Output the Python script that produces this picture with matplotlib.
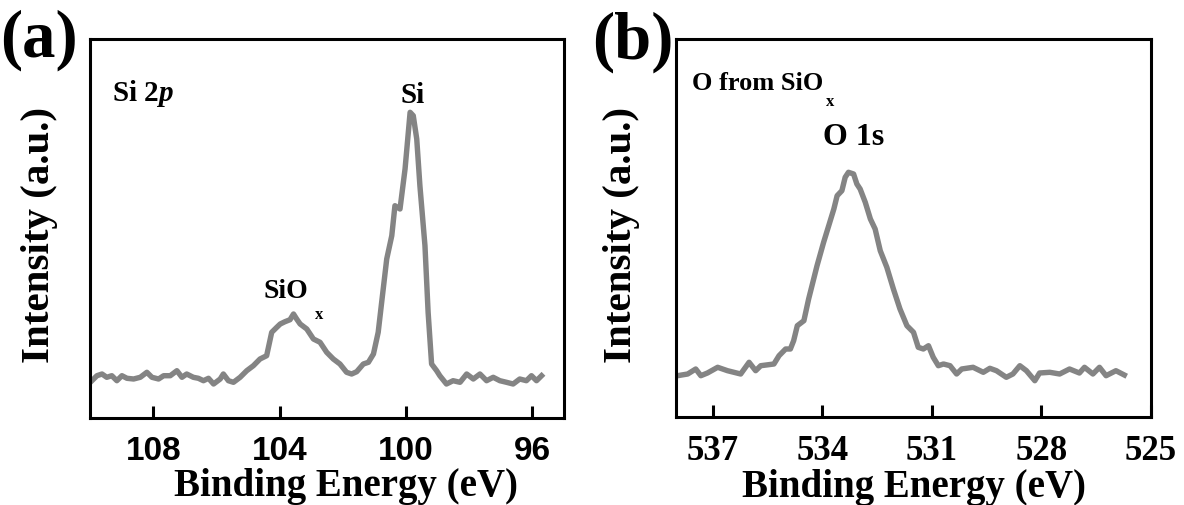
import numpy as np
import matplotlib
matplotlib.use('Agg')
import matplotlib.pyplot as plt

plt.rcParams['font.family'] = 'Liberation Serif'
plt.rcParams['font.weight'] = 'bold'
plt.rcParams['mathtext.fontset'] = 'custom'
plt.rcParams['mathtext.rm'] = 'Liberation Serif:bold'
plt.rcParams['mathtext.it'] = 'Liberation Serif:italic:bold'

# Si 2p spectrum (binding energy in eV, intensity in a.u.)
si_energy = [109.94, 109.78, 109.62, 109.47, 109.31, 109.15, 108.99, 108.83, 108.62, 108.41,
             108.20, 108.04, 107.83, 107.67, 107.46, 107.25, 107.09, 106.94, 106.73, 106.57,
             106.41, 106.25, 106.09, 105.88, 105.78, 105.62, 105.46, 105.25, 105.04, 104.83,
             104.62, 104.41, 104.25, 104.09, 103.98, 103.83, 103.67, 103.56, 103.46, 103.35,
             103.14, 102.93, 102.72, 102.51, 102.30, 102.09, 101.88, 101.72, 101.56, 101.35,
             101.19, 101.03, 100.88, 100.77, 100.61, 100.45, 100.35, 100.19, 100.03, 99.87,
             99.77, 99.66, 99.56, 99.40, 99.30, 99.19, 99.03, 98.93, 98.72, 98.51,
             98.29, 98.08, 97.87, 97.66, 97.45, 97.24, 97.03, 96.82, 96.61, 96.40,
             96.19, 96.03, 95.87, 95.71]
si_int = [37.3, 42.3, 44.0, 40.7, 42.3, 37.3, 42.3, 39.7, 39.0, 40.7,
          45.7, 40.7, 39.0, 42.3, 42.3, 47.3, 40.7, 44.0, 40.7, 39.7,
          37.3, 39.7, 34.0, 39.0, 44.0, 37.3, 35.7, 40.7, 47.3, 52.3,
          59.0, 62.3, 85.7, 90.7, 94.0, 96.3, 98.3, 104.0, 99.0, 94.0,
          89.0, 79.0, 75.7, 65.7, 59.0, 54.0, 45.7, 44.0, 46.3, 54.0,
          55.7, 64.0, 85.7, 115.7, 159.0, 182.3, 212.3, 209.0, 249.0, 305.7,
          302.3, 279.0, 232.3, 172.3, 105.7, 54.0, 47.3, 42.3, 34.0, 37.3,
          35.7, 44.0, 39.0, 44.0, 37.3, 40.7, 37.3, 35.7, 34.0, 39.0,
          37.3, 42.3, 37.3, 42.3]

# O 1s spectrum
o_energy = [537.96, 537.68, 537.46, 537.32, 537.14, 536.86, 536.59, 536.23, 536.00, 535.82,
            535.68, 535.32, 535.18, 535.00, 534.87, 534.78, 534.68, 534.50, 534.37, 534.14,
            533.96, 533.82, 533.68, 533.59, 533.46, 533.37, 533.28, 533.14, 533.05, 532.96,
            532.82, 532.68, 532.55, 532.41, 532.23, 532.05, 531.87, 531.68, 531.50, 531.37,
            531.23, 531.09, 530.96, 530.82, 530.68, 530.50, 530.32, 530.18, 529.87, 529.59,
            529.41, 529.23, 528.96, 528.78, 528.59, 528.41, 528.18, 528.05, 527.77, 527.50,
            527.23, 526.96, 526.82, 526.59, 526.41, 526.23, 525.96, 525.73]
o_int = [41.3, 43.0, 48.0, 41.3, 44.0, 49.7, 46.3, 43.0, 54.7, 46.3,
         51.3, 53.0, 61.3, 68.0, 68.0, 76.3, 91.3, 96.3, 118.0, 151.3,
         174.7, 191.3, 208.0, 221.3, 226.3, 239.7, 244.7, 243.0, 233.0, 228.0,
         214.7, 198.0, 188.0, 166.3, 149.7, 128.0, 108.0, 91.3, 84.7, 69.7,
         68.0, 71.3, 59.7, 51.3, 53.0, 51.3, 43.0, 48.0, 49.7, 44.7,
         48.7, 46.3, 39.7, 43.0, 51.3, 46.3, 36.3, 44.0, 44.7, 43.0,
         48.0, 44.0, 49.7, 43.0, 49.7, 41.3, 46.3, 42.0]

si_ticks = [108, 104, 100, 96]
o_ticks = [537, 534, 531, 528, 525]

line_color = '#848484'

fig = plt.figure(figsize=(11.84, 5.06), dpi=100)
ax1 = fig.add_axes([90/1184, 1-419/506, 474/1184, 379/506])
ax2 = fig.add_axes([676/1184, 1-418/506, 475/1184, 378/506])

ax1.plot(si_energy, si_int, color=line_color, lw=3.9, solid_joinstyle='round')
ax2.plot(o_energy, o_int, color=line_color, lw=3.9, solid_joinstyle='round')

ax1.set_xlim(110, 95)
ax1.set_ylim(0, 379)
ax2.set_xlim(538, 525)
ax2.set_ylim(0, 378)

for ax in (ax1, ax2):
    for sp in ax.spines.values():
        sp.set_linewidth(2.2)
    ax.set_yticks([])
    ax.tick_params(axis='x', direction='in', length=9, width=2.2, pad=12)
    ax.set_xlabel('Binding Energy (eV)', fontsize=28, fontweight='bold', labelpad=1)

# label in (a) sits a little right of centre
ax1.xaxis.label.set_x(0.54)

ax1.set_xticks(si_ticks)
ax1.set_xticklabels([str(t) for t in si_ticks], fontsize=24, fontweight='bold',
                    family='Liberation Sans')
ax2.set_xticks(o_ticks)
ax2.set_xticklabels([str(t) for t in o_ticks], fontsize=25, fontweight='bold')

ax1.set_ylabel('Intensity (a.u.)', fontsize=29.5, fontweight='bold', labelpad=23)
ax2.set_ylabel('Intensity (a.u.)', fontsize=29.5, fontweight='bold', labelpad=26)
ax1.yaxis.label.set_y(0.485)
ax2.yaxis.label.set_y(0.485)

# panel letters
fig.text(0.0, 1-40/506, '(a)', fontsize=48, fontweight='bold', va='center', ha='left')
fig.text(592/1184, 1-42/506, '(b)', fontsize=48, fontweight='bold', va='center', ha='left')

# annotations
ax1.text(0.046, 0.839, r'Si 2$\mathit{p}$', transform=ax1.transAxes, fontsize=21,
         fontweight='bold', va='baseline')
ax1.text(99.78, 316, 'Si', fontsize=21, fontweight='bold', ha='center', va='baseline')
t = ax1.text(104.52, 121, 'SiO', fontsize=20, fontweight='bold', ha='left', va='baseline')
ax1.annotate('x', xy=(1, 0), xycoords=t, xytext=(5, -11), textcoords='offset points',
             fontsize=12, fontweight='bold', va='baseline')

t2 = ax2.text(0.034, 0.869, 'O from SiO', transform=ax2.transAxes, fontsize=19,
              fontweight='bold', va='baseline')
ax2.annotate('x', xy=(1, 0), xycoords=t2, xytext=(2, -8), textcoords='offset points',
             fontsize=12, fontweight='bold', va='baseline')
ax2.text(533.15, 273, 'O 1s', fontsize=23, fontweight='bold', ha='center', va='baseline')

fig.savefig('out.png', dpi=100)
